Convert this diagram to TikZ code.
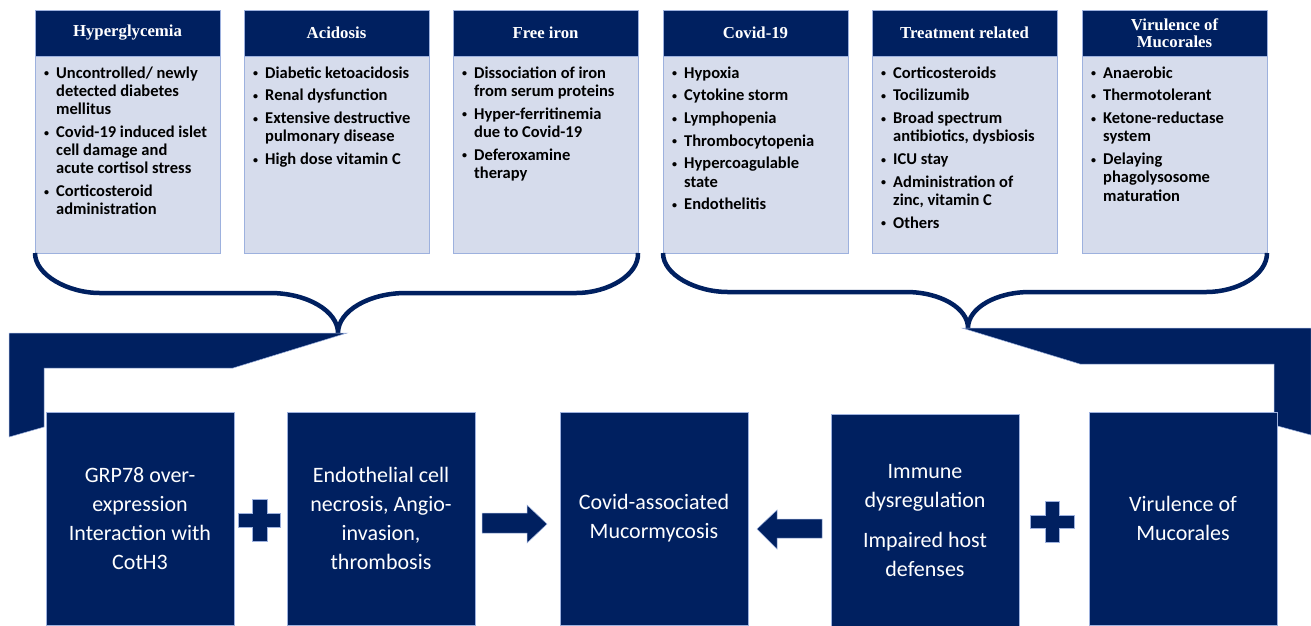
\documentclass[tikz,border=0pt]{standalone}
\usepackage{fontspec}
\setmainfont{Carlito}
\newfontfamily\titrefont{Liberation Serif}
\usetikzlibrary{positioning}

\definecolor{marine}{HTML}{002060}
\definecolor{lavande}{HTML}{D6DCEC}
\definecolor{bordure}{HTML}{9DB1DE}

% one bullet line of a list, \nl breaks inside it
\newcommand{\nl}{\hfil\break}
\newcommand{\puce}[1]{\par\hangindent=12pt\hangafter=1\noindent\makebox[12pt][l]{\raisebox{1.3pt}{\fontsize{10}{10}\selectfont\textbullet}}#1}
\newcommand{\liste}[1]{\parbox[t]{180pt}{\fontsize{16.5}{18.3}\selectfont\bfseries\raggedright\setlength{\parskip}{4.4pt}#1}}

\begin{document}
\begin{tikzpicture}[
       x=1pt,y=-1pt,
       entete/.style={
         rectangle,
         fill=marine,
         draw=bordure,
         line width=0.6pt,
         outer sep=0pt,
         minimum width=185pt,
         minimum height=46pt,
         text=white,
         align=center,
         font=\titrefont\bfseries\fontsize{16.75}{17.5}\selectfont
       },
       corps/.style={
         rectangle,
         fill=lavande,
         draw=bordure,
         line width=0.6pt,
         outer sep=0pt,
         minimum width=185pt,
         minimum height=197pt
       },
       liste/.style={
         anchor=base west,
         inner sep=0pt
       },
       bloc/.style={
         rectangle,
         fill=marine,
         draw=bordure,
         line width=0.6pt,
         minimum width=188pt,
         minimum height=213pt,
         text=white,
         align=center,
         font=\fontsize{22}{29}\selectfont
       },
       accolade/.style={
         draw=marine,
         line width=4.5pt
       },
       socle/.style={
         fill=marine,
         draw=bordure,
         line width=0.5pt
       }
     ]

       \useasboundingbox (0,0) rectangle (1311,625);

       % top row: headers
       \node (t1) at (127.5,33) [entete]{Hyperglycemia};
       \node (t2) at (336.5,33) [entete]{Acidosis};
       \node (t3) at (545.5,33) [entete]{Free iron};
       \node (t4) at (755.5,33) [entete]{Covid-19};
       \node (t5) at (964.5,33) [entete]{Treatment related};
       \node (t6) at (1174.5,33)[entete]{Virulence of\\Mucorales};

       % top row: bodies
       \node (c1) [corps, below=0pt of t1]{};
       \node (c2) [corps, below=0pt of t2]{};
       \node (c3) [corps, below=0pt of t3]{};
       \node (c4) [corps, below=0pt of t4]{};
       \node (c5) [corps, below=0pt of t5]{};
       \node (c6) [corps, below=0pt of t6]{};

       \node (l1) at (44,78) [liste]{\liste{%
         \puce{Uncontrolled/ newly\nl detected diabetes\nl mellitus}
         \puce{Covid-19 induced islet\nl cell damage and\nl acute cortisol stress}
         \puce{Corticosteroid\nl administration}}};
       \node (l2) at (253,78) [liste]{\liste{%
         \puce{Diabetic ketoacidosis}
         \puce{Renal dysfunction}
         \puce{Extensive destructive\nl pulmonary disease}
         \puce{High dose vitamin C}}};
       \node (l3) at (462,78) [liste]{\liste{%
         \puce{Dissociation of iron\nl from serum proteins}
         \puce{Hyper-ferritinemia\nl due to Covid-19}
         \puce{Deferoxamine\nl therapy}}};
       \node (l4) at (672,78) [liste]{\liste{%
         \puce{Hypoxia}
         \puce{Cytokine storm}
         \puce{Lymphopenia}
         \puce{Thrombocytopenia}
         \puce{Hypercoagulable\nl state}
         \puce{Endothelitis}}};
       \node (l5) at (881,78) [liste]{\liste{%
         \puce{Corticosteroids}
         \puce{Tocilizumib}
         \puce{Broad spectrum\nl antibiotics, dysbiosis}
         \puce{ICU stay}
         \puce{Administration of\nl zinc, vitamin C}
         \puce{Others}}};
       \node (l6) at (1091,78) [liste]{\liste{%
         \puce{Anaerobic}
         \puce{Thermotolerant}
         \puce{Ketone-reductase\nl system}
         \puce{Delaying\nl phagolysosome\nl maturation}}};

       % braces
       \coordinate (pointeG) at (338,333);
       \coordinate (pointeD) at (968,328);

       \draw [accolade] (c1.south west) .. controls (35,275) and (68,293) .. (100,293)
         -- (270,293) .. controls (307,293) and (338,311) .. (pointeG)
         .. controls (338,311) and (369,293) .. (406,293)
         -- (576,293) .. controls (608,293) and (639,275) .. (c3.south east);
       \draw [accolade] (c4.south west) .. controls (663,275) and (696,292) .. (728,292)
         -- (906,292) .. controls (940,292) and (968,308) .. (pointeD)
         .. controls (968,308) and (996,292) .. (1030,292)
         -- (1206,292) .. controls (1238,292) and (1267,275) .. (c6.south east);

       % brackets under the braces
       \draw [socle] (9,333) -- (347,333) -- (233,368) -- (44,368) -- (44,427) -- (9,437) -- cycle;
       \draw [socle] (962,328) -- (1311,328) -- (1311,435) -- (1274,425) -- (1274,364) -- (1080,364) -- cycle;

       % bottom row
       \node (b1) at (140,518.5) [bloc]{GRP78 over-\\expression\\Interaction with\\CotH3};
       \node (b2) at (381,518.5) [bloc]{Endothelial cell\\necrosis, Angio-\\invasion,\\thrombosis};
       \node (b3) at (654,518.5) [bloc]{Covid-associated\\Mucormycosis};
       \node (b4) at (925,520.5) [bloc]{Immune\\dysregulation\\[11pt]Impaired host\\defenses};
       \node (b5) at (1183,518.5)[bloc]{Virulence of\\Mucorales};

       % plus signs and arrows
       \draw [socle] (252,499) -- (267,499) -- (267,513) -- (280,513) -- (280,527) -- (267,527)
         -- (267,541) -- (252,541) -- (252,527) -- (238,527) -- (238,513) -- (252,513) -- cycle;
       \draw [socle] (1045,501) -- (1059,501) -- (1059,515) -- (1074,515) -- (1074,528) -- (1059,528)
         -- (1059,542) -- (1045,542) -- (1045,528) -- (1030,528) -- (1030,515) -- (1045,515) -- cycle;
       \draw [socle] (482,513) -- (527,513) -- (527,505) -- (547,524) -- (527,543) -- (527,533) -- (482,533) -- cycle;
       \draw [socle] (822,519) -- (777,519) -- (777,510) -- (757,529) -- (777,549) -- (777,538) -- (822,538) -- cycle;

\end{tikzpicture}
\end{document}
